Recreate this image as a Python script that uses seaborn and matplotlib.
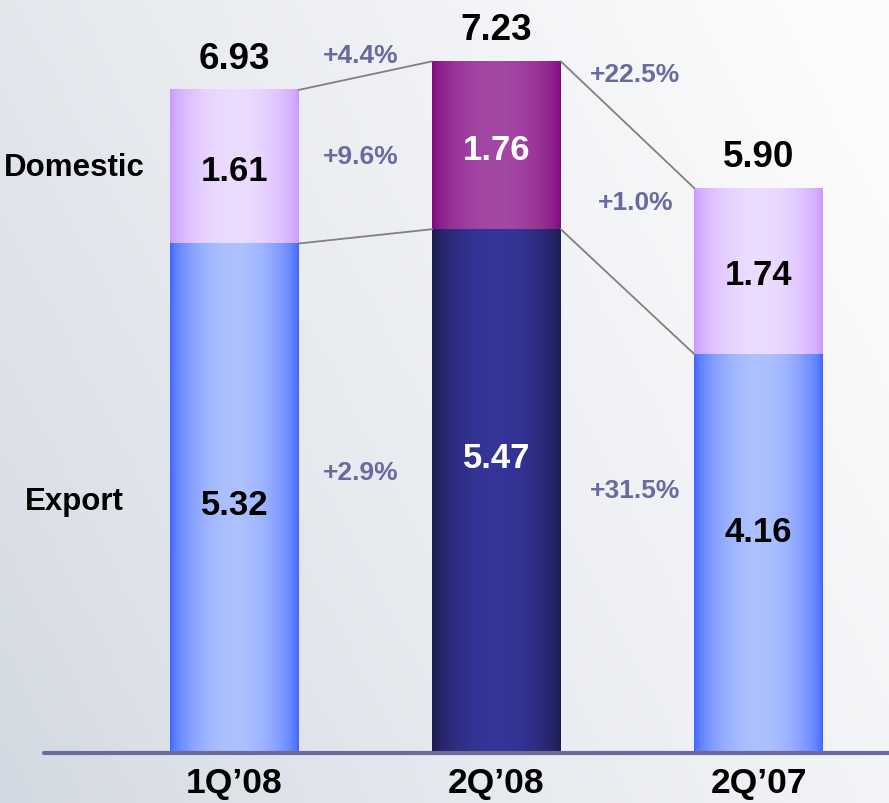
import numpy as np
import pandas as pd
import seaborn as sns
import matplotlib.pyplot as plt
from matplotlib.colors import to_rgb

# Data
quarters = ["1Q\u201908", "2Q\u201908", "2Q\u201907"]
export = [5.32, 5.47, 4.16]
domestic = [1.61, 1.76, 1.74]
totals = [6.93, 7.23, 5.90]

# growth labels between bars: (left pair, right pair)
growth_top = ["+4.4%", "+22.5%"]
growth_dom = ["+9.6%", "+1.0%"]
growth_exp = ["+2.9%", "+31.5%"]

# gradient colours per bar (edge, centre)
export_cols = [("#3a62ff", "#adc1ff"), ("#1a1a48", "#35359a"), ("#3a62ff", "#adc1ff")]
domestic_cols = [("#c896ff", "#ecdcff"), ("#7e067e", "#a448a4"), ("#c896ff", "#ecdcff")]
inner_text = ["black", "white", "black"]

df = pd.DataFrame({"quarter": quarters, "export": export,
                   "domestic": domestic, "total": totals})

sns.set_style("white")
plt.rcParams["font.family"] = ["Liberation Sans", "DejaVu Sans"]
plt.rcParams["font.weight"] = "bold"

fig = plt.figure(figsize=(8.89, 8.04), dpi=100)
ax = fig.add_axes([0, 0, 1, 1])

W = 0.49
sns.barplot(data=df, x="quarter", y="total", color="#c896ff", width=W, ax=ax, zorder=2)
sns.barplot(data=df, x="quarter", y="export", color="#3a62ff", width=W, ax=ax, zorder=3)

ax.set_axis_off()

# background gradient
gx = np.linspace(0, 1, 200)
gy = np.linspace(0, 1, 200)
X, Y = np.meshgrid(gx, gy)
t = np.clip(0.75 * X + 0.35 * Y, 0, 1) ** 0.8
c0 = np.array(to_rgb("#d2d8e1"))
c1 = np.array(to_rgb("#fbfbfc"))
bg = c0 + (c1 - c0) * t[..., None]
ax.imshow(bg, extent=(0, 1, 0, 1), transform=ax.transAxes, origin="lower",
          aspect="auto", zorder=0)


def grad_fill(patch, edge, centre, z):
    x0, y0 = patch.get_x(), patch.get_y()
    w, h = patch.get_width(), patch.get_height()
    s = np.linspace(0, 1, 256)
    prof = np.sin(np.pi * s) ** 0.6
    e, c = np.array(to_rgb(edge)), np.array(to_rgb(centre))
    img = e + (c - e) * prof[:, None]
    ax.imshow(img[None, :, :], extent=(x0, x0 + w, y0, y0 + h),
              aspect="auto", zorder=z)
    patch.set_visible(False)


patches = ax.patches[:]
for i in range(3):
    grad_fill(patches[i], *domestic_cols[i], 2)
    grad_fill(patches[3 + i], *export_cols[i], 3)

ax.set_xlim(-0.895, 2.498)
ax.set_ylim(-0.545, 7.883)

# connector lines
for i in range(2):
    xa, xb = i + W / 2, i + 1 - W / 2
    ax.plot([xa, xb], [totals[i], totals[i + 1]], color="#808080", lw=1.3, zorder=4)
    ax.plot([xa, xb], [export[i], export[i + 1]], color="#808080", lw=1.3, zorder=4)

# baseline
ax.axhline(-0.02, xmin=0.05, xmax=1, color="#6a6a9c", lw=3, zorder=5)

# value labels
export_y = [2.58, 3.08, 2.30]
for i in range(3):
    ax.text(i, totals[i] + 0.15, f"{totals[i]:.2f}", ha="center", va="bottom",
            fontsize=26.5, fontweight="bold", color="black", zorder=6)
    ax.text(i, export[i] + domestic[i] / 2 - 0.04, f"{domestic[i]:.2f}", ha="center",
            va="center", fontsize=25, fontweight="bold", color=inner_text[i], zorder=6)
    ax.text(i, export_y[i], f"{export[i]:.2f}", ha="center", va="center",
            fontsize=25, fontweight="bold", color=inner_text[i], zorder=6)
    ax.text(i, -0.33, quarters[i], ha="center", va="center", fontsize=25.5,
            fontweight="bold", color="black", zorder=6)

# growth labels
gcol = "#6a6aa0"
top_y = [7.30, 7.10]
dom_y = [6.24, 5.76]
exp_y = [2.92, 2.74]
gx_pos = [0.48, 1.53]
for j in range(2):
    ax.text(gx_pos[j], top_y[j], growth_top[j], ha="center", va="center",
            fontsize=19, fontweight="bold", color=gcol, zorder=6)
    ax.text(gx_pos[j], dom_y[j], growth_dom[j], ha="center", va="center",
            fontsize=19, fontweight="bold", color=gcol, zorder=6)
    ax.text(gx_pos[j], exp_y[j], growth_exp[j], ha="center", va="center",
            fontsize=19, fontweight="bold", color=gcol, zorder=6)

# series labels on the left
ax.text(-0.61, 6.12, "Domestic", ha="center", va="center", fontsize=22.5,
        fontweight="bold", color="black", zorder=6)
ax.text(-0.61, 2.62, "Export", ha="center", va="center", fontsize=22.5,
        fontweight="bold", color="black", zorder=6)

fig.savefig("out.png", dpi=100)
